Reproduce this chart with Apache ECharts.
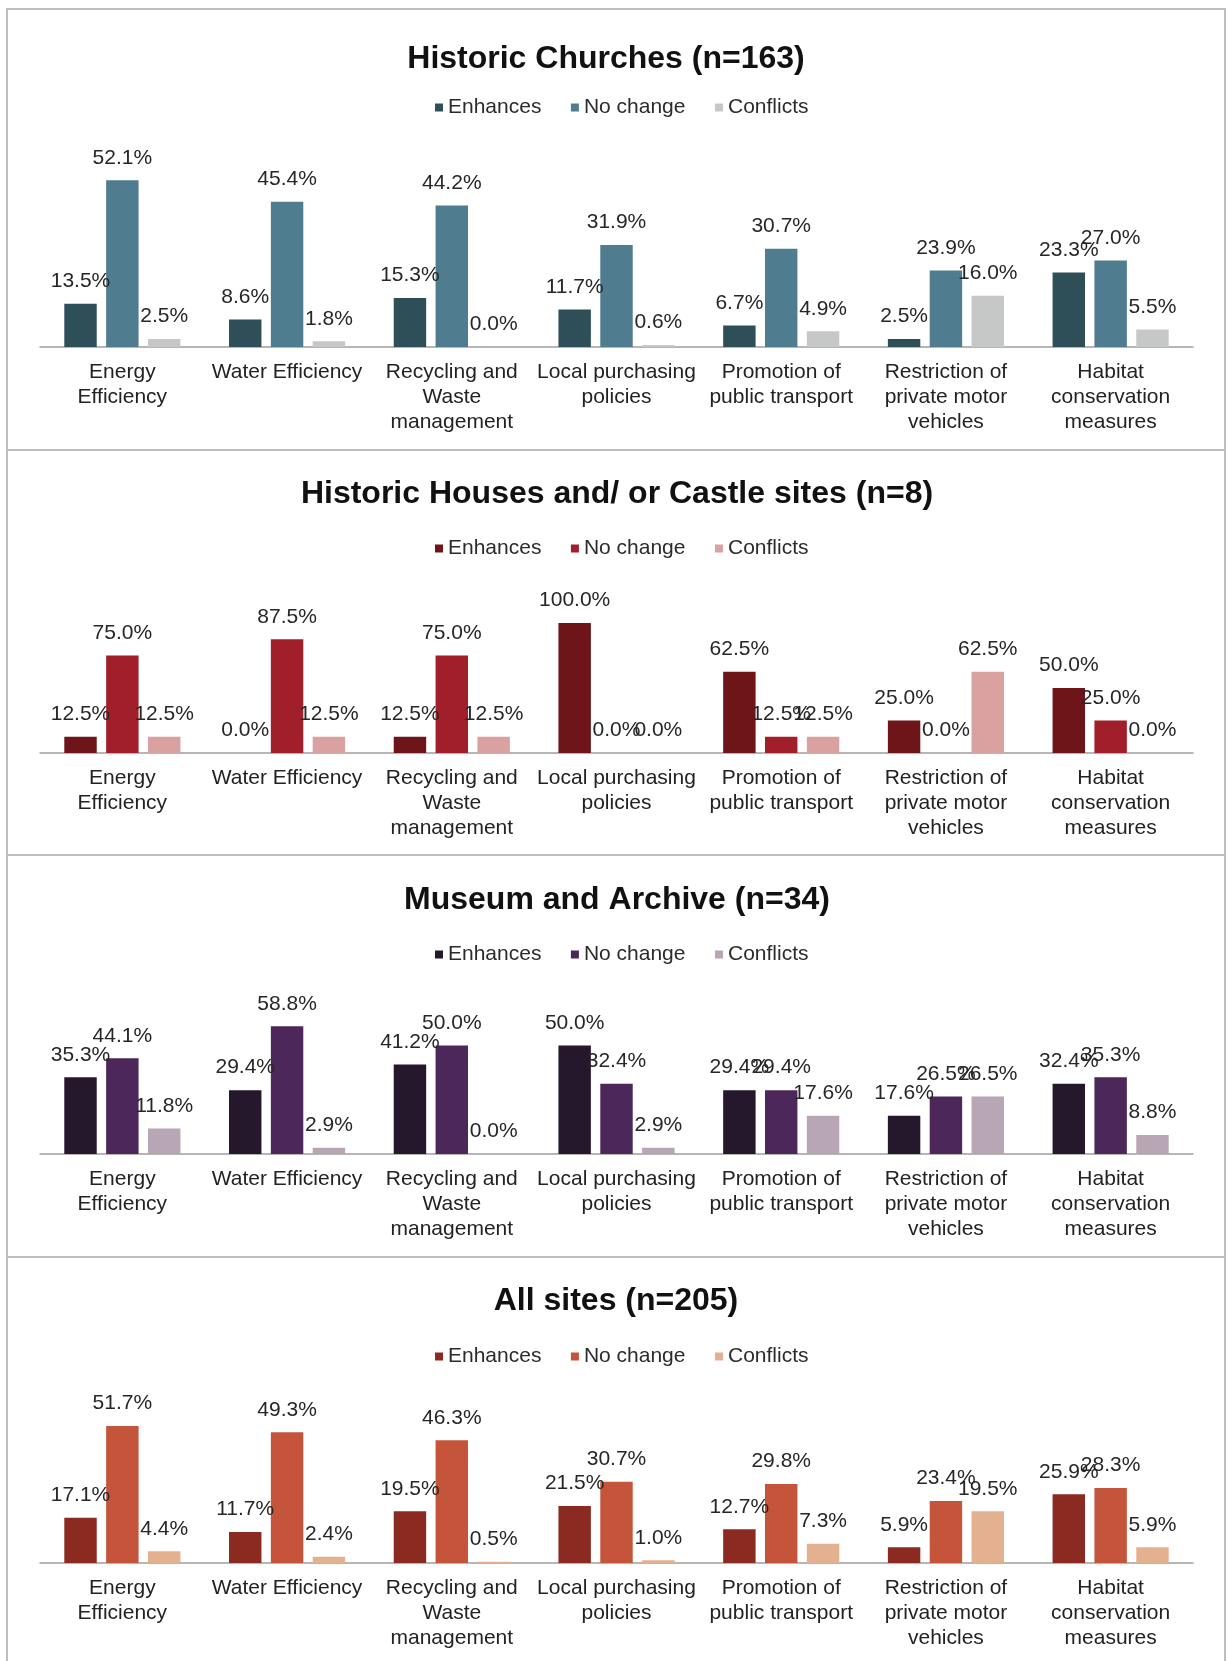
<!DOCTYPE html>
<html>
<head>
<meta charset="utf-8">
<script src="https://cdn.jsdelivr.net/npm/echarts@6/dist/echarts.min.js"></script>
<style>
  html, body { margin: 0; padding: 0; background: #ffffff; }
  #page { position: relative; width: 1228px; height: 1661px; background: #ffffff; overflow: hidden; }
  .panel { position: absolute; left: 0; width: 1228px; }
  .rule { position: absolute; background: #bdbdbd; }
</style>
</head>
<body>
<div id="page"></div>
<script>
// Policy categories shared by all four panels
const categories = [
  'Energy\nEfficiency',
  'Water Efficiency',
  'Recycling and\nWaste\nmanagement',
  'Local purchasing\npolicies',
  'Promotion of\npublic transport',
  'Restriction of\nprivate motor\nvehicles',
  'Habitat\nconservation\nmeasures'
];
const seriesNames = ['Enhances', 'No change', 'Conflicts'];

// Historic Churches (n=163), percent of sites
const churchesEnhances = [13.5, 8.6, 15.3, 11.7, 6.7, 2.5, 23.3];
const churchesNoChange = [52.1, 45.4, 44.2, 31.9, 30.7, 23.9, 27.0];
const churchesConflicts = [2.5, 1.8, 0.0, 0.6, 4.9, 16.0, 5.5];

// Historic Houses and/ or Castle sites (n=8)
const housesEnhances = [12.5, 0.0, 12.5, 100.0, 62.5, 25.0, 50.0];
const housesNoChange = [75.0, 87.5, 75.0, 0.0, 12.5, 0.0, 25.0];
const housesConflicts = [12.5, 12.5, 12.5, 0.0, 12.5, 62.5, 0.0];

// Museum and Archive (n=34)
const museumEnhances = [35.3, 29.4, 41.2, 50.0, 29.4, 17.6, 32.4];
const museumNoChange = [44.1, 58.8, 50.0, 32.4, 29.4, 26.5, 35.3];
const museumConflicts = [11.8, 2.9, 0.0, 2.9, 17.6, 26.5, 8.8];

// All sites (n=205)
const allEnhances = [17.1, 11.7, 19.5, 21.5, 12.7, 5.9, 25.9];
const allNoChange = [51.7, 49.3, 46.3, 30.7, 29.8, 23.4, 28.3];
const allConflicts = [4.4, 2.4, 0.5, 1.0, 7.3, 19.5, 5.9];

const FONT = '"Liberation Sans", Arial, Helvetica, sans-serif';

// Panel layout: band on the page, title/legend centres, plot box and axis max
const panels = [
  {
    title: 'Historic Churches (n=163)', titleX: 601,
    values: [churchesEnhances, churchesNoChange, churchesConflicts],
    colors: ['#2e4f58', '#4f7c8f', '#c6c8c8'],
    top: 9, height: 441, titleY: 45, legendY: 94, gridTop: 146, gridH: 192, yMax: 60
  },
  {
    title: 'Historic Houses and/ or Castle sites (n=8)', titleX: 612,
    values: [housesEnhances, housesNoChange, housesConflicts],
    colors: ['#6e1519', '#a01f2b', '#d9a1a0'],
    top: 450, height: 405, titleY: 39, legendY: 94, gridTop: 147, gridH: 156, yMax: 120
  },
  {
    title: 'Museum and Archive (n=34)', titleX: 612,
    values: [museumEnhances, museumNoChange, museumConflicts],
    colors: ['#25172c', '#4c2759', '#b8a6b4'],
    top: 855, height: 402, titleY: 40, legendY: 95, gridTop: 147, gridH: 152, yMax: 70
  },
  {
    title: 'All sites (n=205)', titleX: 611,
    values: [allEnhances, allNoChange, allConflicts],
    colors: ['#8a2a20', '#c4553a', '#e4b190'],
    top: 1257, height: 404, titleY: 39, legendY: 95, gridTop: 147, gridH: 159, yMax: 60
  }
];

const page = document.getElementById('page');

// frame rules
function rule(x, y, w, h) {
  const d = document.createElement('div');
  d.className = 'rule';
  d.style.left = x + 'px'; d.style.top = y + 'px';
  d.style.width = w + 'px'; d.style.height = h + 'px';
  page.appendChild(d);
}
rule(6, 8, 2, 1661 - 8);
rule(1224, 8, 2, 1661 - 8);
[8, 449, 854, 1256].forEach(y => rule(6, y, 1220, 2));

panels.forEach(p => {
  const div = document.createElement('div');
  div.className = 'panel';
  div.style.top = (p.top + 2) + 'px';
  div.style.height = (p.height - 2) + 'px';
  page.appendChild(div);
  const chart = echarts.init(div, null, { renderer: 'canvas' });
  const off = -2;
  chart.setOption({
    animation: false,
    backgroundColor: 'transparent',
    title: {
      text: p.title,
      left: p.titleX,
      textAlign: 'center',
      top: p.titleY - 16 + off,
      textStyle: { fontFamily: FONT, fontSize: 32, fontWeight: 'bold', color: '#111111' }
    },
    legend: {
      data: seriesNames,
      left: 430,
      top: p.legendY - 11 + off,
      icon: 'rect',
      itemWidth: 8,
      itemHeight: 8,
      itemGap: 29.5,
      textStyle: { fontFamily: FONT, fontSize: 21, color: '#2b2b2b' }
    },
    grid: { left: 40, right: 35, top: p.gridTop + off, height: p.gridH, containLabel: false },
    xAxis: {
      type: 'category',
      data: categories,
      axisLine: { show: true, lineStyle: { color: '#9e9e9e', width: 1.5 } },
      axisTick: { show: false },
      axisLabel: {
        interval: 0, margin: 13, fontFamily: FONT, fontSize: 21, lineHeight: 25,
        color: '#222222', align: 'center'
      }
    },
    yAxis: { type: 'value', min: 0, max: p.yMax, show: false, splitLine: { show: false } },
    series: seriesNames.map((name, i) => ({
      name: name,
      type: 'bar',
      data: p.values[i],
      barGap: '29%',
      barCategoryGap: '29.5%',
      itemStyle: { color: p.colors[i] },
      label: {
        show: true, position: 'top', distance: 12,
        fontFamily: FONT, fontSize: 21, color: '#262626',
        formatter: d => d.value.toFixed(1) + '%'
      }
    }))
  });
});
</script>
</body>
</html>
